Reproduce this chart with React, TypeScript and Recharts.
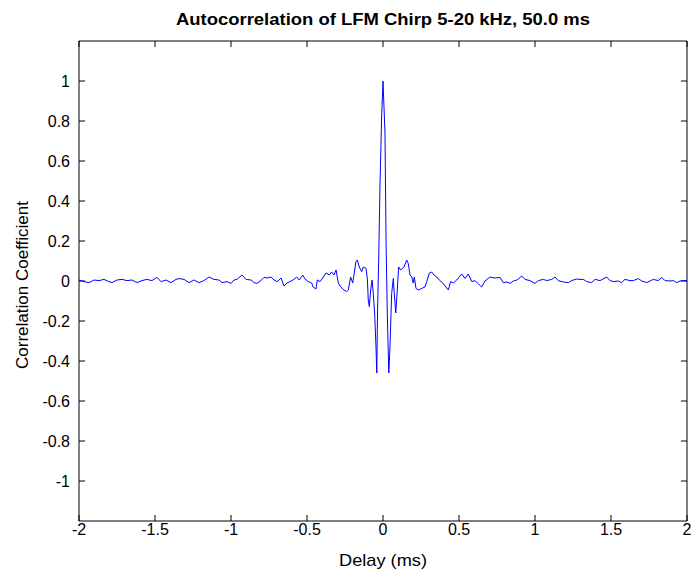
import React from 'react';
import { LineChart, Line, XAxis, YAxis, Label, ReferenceLine } from 'recharts';

const delayMs: number[] = [
  -2.0, -1.967, -1.934, -1.901, -1.868, -1.836, -1.803, -1.783, -1.75, -1.717,
  -1.684, -1.651, -1.618, -1.586, -1.553, -1.52, -1.487, -1.461, -1.428, -1.395,
  -1.362, -1.342, -1.309, -1.276, -1.243, -1.211, -1.178, -1.145, -1.112, -1.079,
  -1.059, -1.026, -1.0, -0.98, -0.961, -0.928, -0.901, -0.868, -0.849, -0.829,
  -0.803, -0.783, -0.763, -0.737, -0.717, -0.697, -0.671, -0.651, -0.632, -0.612,
  -0.592, -0.568, -0.551, -0.528, -0.513, -0.491, -0.469, -0.459, -0.441, -0.432,
  -0.414, -0.397, -0.375, -0.353, -0.338, -0.322, -0.309, -0.294, -0.278, -0.257,
  -0.239, -0.228, -0.213, -0.199, -0.191, -0.178, -0.169, -0.156, -0.14, -0.13,
  -0.112, -0.103, -0.097, -0.09, -0.081, -0.072, -0.064, -0.055, -0.046, -0.041,
  -0.036, -0.028, -0.02, -0.009, 0.0, 0.013, 0.02, 0.028, 0.038, 0.046,
  0.057, 0.068, 0.074, 0.084, 0.094, 0.103, 0.116, 0.138, 0.156, 0.166,
  0.178, 0.189, 0.199, 0.206, 0.217, 0.232, 0.255, 0.276, 0.288, 0.305,
  0.32, 0.336, 0.353, 0.37, 0.393, 0.414, 0.43, 0.445, 0.463, 0.485,
  0.518, 0.539, 0.561, 0.584, 0.605, 0.634, 0.649, 0.671, 0.704, 0.737,
  0.77, 0.791, 0.816, 0.836, 0.857, 0.882, 0.913, 0.934, 0.967, 1.0,
  1.022, 1.055, 1.077, 1.11, 1.132, 1.153, 1.186, 1.219, 1.241, 1.274,
  1.296, 1.318, 1.34, 1.373, 1.395, 1.428, 1.472, 1.493, 1.515, 1.548,
  1.57, 1.592, 1.625, 1.647, 1.68, 1.702, 1.735, 1.757, 1.778, 1.811,
  1.834, 1.855, 1.888, 1.91, 1.932, 1.954, 1.976, 2.0,
];

const corrCoef: number[] = [
  0.005, -0.003, -0.008, 0.005, 0.002, 0.008, -0.003, -0.008, 0.005, 0.008,
  0.002, 0.005, -0.008, 0.002, 0.008, 0.002, 0.018, -0.003, 0.005, -0.008,
  0.008, 0.012, 0.008, -0.008, 0.005, -0.008, 0.002, 0.02, 0.008, 0.005,
  -0.008, -0.003, -0.012, 0.005, 0.008, 0.03, 0.008, 0.005, -0.008, -0.012,
  0.002, 0.018, 0.015, 0.02, 0.005, -0.003, 0.015, -0.025, -0.01, -0.003,
  0.005, 0.02, 0.005, 0.03, 0.01, -0.003, -0.01, -0.03, -0.04, 0.005,
  -0.003, 0.015, 0.04, 0.03, 0.045, 0.03, 0.055, -0.01, -0.03, -0.045,
  -0.053, -0.045, 0.02, -0.01, 0.03, 0.097, 0.105, 0.07, 0.047, 0.07,
  0.063, 0.013, -0.095, -0.128, -0.045, 0.005, -0.062, -0.16, -0.33, -0.46,
  -0.16, 0.12, 0.47, 0.82, 1.0, 0.74, 0.21, -0.155, -0.46, -0.33,
  -0.062, 0.013, -0.06, -0.16, -0.045, 0.07, 0.055, 0.07, 0.105, 0.088,
  0.03, 0.02, -0.01, 0.02, -0.037, -0.045, -0.037, -0.03, -0.003, 0.04,
  0.045, 0.03, 0.02, 0.005, -0.01, -0.03, -0.045, -0.003, -0.01, 0.005,
  0.035, 0.013, 0.035, -0.003, 0.002, -0.02, -0.03, 0.0, 0.02, 0.015,
  0.018, -0.008, -0.005, -0.012, 0.0, 0.005, 0.025, 0.008, 0.002, -0.012,
  0.002, 0.008, 0.002, 0.008, 0.02, 0.002, -0.005, -0.008, 0.002, 0.01,
  0.008, 0.008, -0.003, -0.008, 0.008, 0.002, 0.02, 0.002, -0.003, 0.0,
  -0.008, 0.008, 0.002, 0.002, 0.012, 0.0, -0.008, 0.0, 0.008, 0.002,
  0.018, 0.002, 0.0, 0.002, -0.008, 0.0, 0.002, 0.002,
];

const xTicks: number[] = [-2, -1.5, -1, -0.5, 0, 0.5, 1, 1.5, 2];
const yTicks: number[] = [-1, -0.8, -0.6, -0.4, -0.2, 0, 0.2, 0.4, 0.6, 0.8, 1];
const xDomain: [number, number] = [-2, 2];
const yDomain: [number, number] = [-1.2, 1.2];

const titleText = 'Autocorrelation of LFM Chirp 5-20 kHz, 50.0 ms';
const xLabelText = 'Delay (ms)';
const yLabelText = 'Correlation Coefficient';

const data = delayMs.map((d, i) => ({ delay: d, corr: corrCoef[i] }));

const FONT = "'Liberation Sans', Arial, sans-serif";
const AXIS = '#000000';
// inward tick length, expressed in data units of each axis (about 6 px)
const X_TICK_LEN = 0.04;
const Y_TICK_LEN = 0.03;

const BottomTickText = (props: any) => {
  const { x, y, payload } = props;
  return (
    <text x={x} y={y + 14} textAnchor="middle" fontFamily={FONT} fontSize={16} fill="#000">
      {String(payload.value)}
    </text>
  );
};

const LeftTickText = (props: any) => {
  const { x, y, payload } = props;
  return (
    <text x={x} y={y + 6} textAnchor="end" fontFamily={FONT} fontSize={16} fill="#000">
      {String(payload.value)}
    </text>
  );
};

const renderTitle = () => (
  <text
    x={375}
    y={17}
    textAnchor="middle"
    fontFamily={FONT}
    fontSize={16}
    fontWeight="bold"
    fill="#000"
    textLength={414}
    lengthAdjust="spacingAndGlyphs"
  >
    {titleText}
  </text>
);

const renderXLabel = () => (
  <text
    x={375}
    y={558}
    textAnchor="middle"
    fontFamily={FONT}
    fontSize={17}
    fill="#000"
    textLength={88}
    lengthAdjust="spacingAndGlyphs"
  >
    {xLabelText}
  </text>
);

const renderYLabel = () => (
  <text
    x={20}
    y={277}
    textAnchor="middle"
    fontFamily={FONT}
    fontSize={17}
    fill="#000"
    textLength={168}
    lengthAdjust="spacingAndGlyphs"
    transform="rotate(-90 20 277)"
  >
    {yLabelText}
  </text>
);

export default function App() {
  return (
    <div style={{ position: 'absolute', left: 8, top: 8, width: 684, height: 566, background: '#fff' }}>
      <LineChart
        width={684}
        height={566}
        data={data}
        margin={{ top: 33, right: 5, bottom: 0, left: 0 }}
        style={{ overflow: 'visible' }}
      >
        <XAxis
          dataKey="delay"
          type="number"
          domain={xDomain}
          ticks={xTicks}
          interval={0}
          allowDataOverflow
          height={53}
          tickSize={0}
          tickMargin={0}
          tickLine={false}
          axisLine={{ stroke: AXIS, strokeWidth: 1 }}
          tick={BottomTickText}
        >
          <Label content={renderXLabel} />
        </XAxis>
        <YAxis
          type="number"
          domain={yDomain}
          ticks={yTicks}
          interval={0}
          allowDataOverflow
          width={71}
          tickSize={0}
          tickMargin={9}
          tickLine={false}
          axisLine={{ stroke: AXIS, strokeWidth: 1 }}
          tick={LeftTickText}
        >
          <Label content={renderYLabel} />
          <Label content={renderTitle} />
        </YAxis>
        <ReferenceLine y={yDomain[1]} stroke={AXIS} strokeWidth={1} ifOverflow="visible" />
        <ReferenceLine x={xDomain[1]} stroke={AXIS} strokeWidth={1} ifOverflow="visible" />
        {xTicks.map((t) => (
          <ReferenceLine
            key={'b' + t}
            segment={[
              { x: t, y: yDomain[0] },
              { x: t, y: yDomain[0] + Y_TICK_LEN },
            ]}
            stroke={AXIS}
            strokeWidth={1}
            ifOverflow="visible"
          />
        ))}
        {xTicks.map((t) => (
          <ReferenceLine
            key={'t' + t}
            segment={[
              { x: t, y: yDomain[1] },
              { x: t, y: yDomain[1] - Y_TICK_LEN },
            ]}
            stroke={AXIS}
            strokeWidth={1}
            ifOverflow="visible"
          />
        ))}
        {yTicks.map((t) => (
          <ReferenceLine
            key={'l' + t}
            segment={[
              { x: xDomain[0], y: t },
              { x: xDomain[0] + X_TICK_LEN, y: t },
            ]}
            stroke={AXIS}
            strokeWidth={1}
            ifOverflow="visible"
          />
        ))}
        {yTicks.map((t) => (
          <ReferenceLine
            key={'r' + t}
            segment={[
              { x: xDomain[1], y: t },
              { x: xDomain[1] - X_TICK_LEN, y: t },
            ]}
            stroke={AXIS}
            strokeWidth={1}
            ifOverflow="visible"
          />
        ))}
        <Line
          type="linear"
          dataKey="corr"
          stroke="#0000ff"
          strokeWidth={1}
          dot={false}
          activeDot={false}
          isAnimationActive={false}
        />
      </LineChart>
    </div>
  );
}
